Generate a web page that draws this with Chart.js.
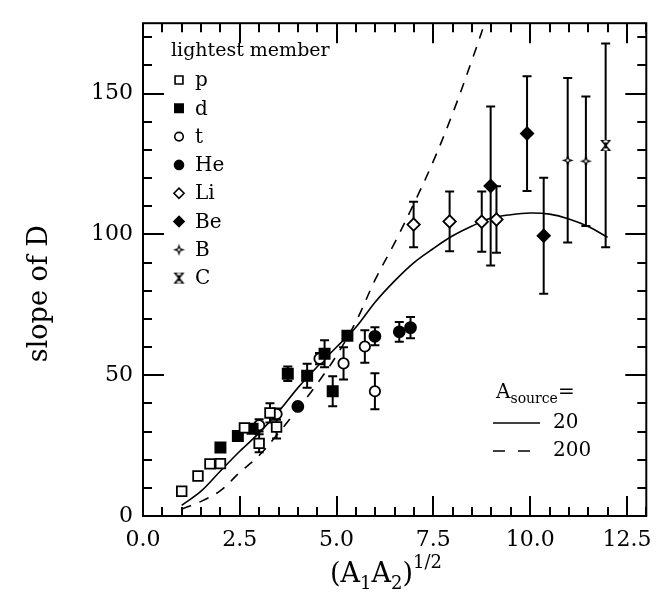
<!DOCTYPE html>
<html>
<head>
<meta charset="utf-8">
<script src="https://cdn.jsdelivr.net/npm/chart.js@4.4.0/dist/chart.umd.min.js"></script>
<style>
  html, body { margin: 0; padding: 0; background: #fff; }
  #wrap { width: 663px; height: 592px; }
</style>
</head>
<body>
<div id="wrap"><canvas id="slopechart" width="663" height="592"></canvas></div>
<script>
// data, one group per lightest member
const pX = [1.0, 1.42, 1.73, 2.0, 2.62, 3.0, 3.28, 3.45];
const pY = [8.8, 14.2, 18.5, 18.6, 31.3, 25.8, 36.6, 31.6];
const pErr = [0, 0, 0, 0, 0, 3.2, 3.4, 4.1];

const dX = [2.0, 2.45, 2.83, 3.74, 4.24, 4.69, 4.9, 5.28];
const dY = [24.3, 28.4, 31.0, 50.5, 49.8, 57.6, 44.3, 64.0];
const dErr = [1.5, 0, 0, 2.6, 4.3, 4.8, 5.3, 0];

const tX = [3.0, 3.45, 4.56, 5.18, 5.73, 5.99];
const tY = [32.2, 36.2, 55.9, 54.2, 60.2, 44.3];
const tErr = [2.2, 2.0, 2.0, 5.7, 5.8, 6.4];

const heX = [4.0, 5.99, 6.62, 6.91];
const heY = [38.9, 63.8, 65.4, 66.9];
const heErr = [0, 3.2, 3.5, 3.8];

const liX = [6.99, 7.92, 8.75, 9.13];
const liY = [103.5, 104.6, 104.5, 105.3];
const liErr = [8.1, 10.6, 10.7, 11.8];

const beX = [8.98, 9.92, 10.35];
const beY = [117.2, 135.8, 99.5];
const beErr = [28.2, 20.4, 20.6];

const bX = [10.97, 11.44];
const bY = [126.3, 126.0];
const bErr = [29.2, 23.0];

const cX = [11.95];
const cY = [131.6];
const cErr = [36.2];

// model curves
const solidX = [1, 1.5, 2, 2.5, 3, 3.5, 4, 4.5, 5, 5.5, 6, 6.5, 7, 7.5, 8, 8.5, 9, 9.5, 10, 10.5, 11, 11.5, 12];
const solidY = [3.8, 8.8, 16, 23, 29.5, 37, 45.5, 53, 60, 67, 76, 83.5, 90, 95, 99.5, 103, 105.8, 107, 107.6, 107.2, 105.5, 102.8, 99];
const dashX = [1, 1.5, 2, 2.5, 3, 3.5, 4, 4.5, 5, 5.5, 6, 6.5, 7, 7.5, 8, 8.5, 9];
const dashY = [2.5, 5.2, 9, 15.5, 21.5, 29.5, 38, 47, 57, 69, 84, 97, 111, 126, 143, 162, 182];

const xTicksMax = 13;
const yTicksMax = 175;

const serif = '"DejaVu Serif", "Liberation Serif", serif';

function pts(xs, ys) {
    return xs.map((x, i) => ({ x: x, y: ys[i] }));
}

// little custom markers for B and C
function starMarker() {
    const c = document.createElement('canvas');
    c.width = 13; c.height = 13;
    const g = c.getContext('2d');
    g.fillStyle = '#000';
    g.beginPath();
    g.moveTo(6.5, 0.5); g.lineTo(8, 5); g.lineTo(12.5, 6.5); g.lineTo(8, 8);
    g.lineTo(6.5, 12.5); g.lineTo(5, 8); g.lineTo(0.5, 6.5); g.lineTo(5, 5);
    g.closePath();
    g.fill();
    g.fillStyle = '#fff';
    g.beginPath(); g.arc(6.5, 6.5, 1.3, 0, Math.PI * 2); g.fill();
    return c;
}
function hourglassMarker() {
    const c = document.createElement('canvas');
    c.width = 13; c.height = 13;
    const g = c.getContext('2d');
    g.fillStyle = '#000';
    g.beginPath();
    g.moveTo(1, 1); g.lineTo(12, 1); g.lineTo(7.5, 6.5); g.lineTo(12, 12);
    g.lineTo(1, 12); g.lineTo(5.5, 6.5); g.closePath();
    g.fill();
    g.fillStyle = '#fff';
    g.fillRect(4.5, 1.5, 4, 2);
    g.fillRect(4.5, 9.5, 4, 2);
    return c;
}

function markerSet(label, xs, ys, errs, style, radius, filled) {
    return {
        label: label,
        data: pts(xs, ys),
        errs: errs,
        pointStyle: style,
        pointRadius: radius,
        pointBorderWidth: 1.8,
        pointBorderColor: '#000',
        pointBackgroundColor: filled ? '#000' : '#fff',
        showLine: false,
        order: 1
    };
}

const datasets = [
    markerSet('p', pX, pY, pErr, 'rect', 6.8, false),
    markerSet('d', dX, dY, dErr, 'rect', 7.2, true),
    markerSet('t', tX, tY, tErr, 'circle', 5.2, false),
    markerSet('He', heX, heY, heErr, 'circle', 5.5, true),
    markerSet('Li', liX, liY, liErr, 'rectRot', 6.2, false),
    markerSet('Be', beX, beY, beErr, 'rectRot', 6.2, true),
    markerSet('B', bX, bY, bErr, starMarker(), 6, true),
    markerSet('C', cX, cY, cErr, hourglassMarker(), 6, true),
    {
        label: '20', data: pts(solidX, solidY), showLine: true, pointRadius: 0,
        borderColor: '#000', borderWidth: 1.6, tension: 0.35, order: 5, isCurve: true
    },
    {
        label: '200', data: pts(dashX, dashY), showLine: true, pointRadius: 0,
        borderColor: '#000', borderWidth: 1.6, borderDash: [10, 9], tension: 0.35, order: 5, isCurve: true
    }
];

// vertical error bars, drawn under the markers
const errorBars = {
    id: 'errorBars',
    beforeDatasetsDraw(chart) {
        const ctx = chart.ctx, xs = chart.scales.x, ys = chart.scales.y, a = chart.chartArea;
        ctx.save();
        ctx.beginPath();
        ctx.rect(a.left, a.top, a.right - a.left, a.bottom - a.top);
        ctx.clip();
        ctx.strokeStyle = '#000';
        ctx.lineWidth = 2;
        chart.data.datasets.forEach(ds => {
            if (!ds.errs) return;
            ds.data.forEach((d, i) => {
                const e = ds.errs[i];
                if (!e) return;
                const px = xs.getPixelForValue(d.x);
                const top = ys.getPixelForValue(d.y + e);
                const bot = ys.getPixelForValue(d.y - e);
                ctx.beginPath();
                ctx.moveTo(px, top); ctx.lineTo(px, bot);
                ctx.moveTo(px - 4.5, top); ctx.lineTo(px + 4.5, top);
                ctx.moveTo(px - 4.5, bot); ctx.lineTo(px + 4.5, bot);
                ctx.stroke();
            });
        });
        ctx.restore();
    }
};

// box with inward ticks on every side, plus axis titles
const frame = {
    id: 'frame',
    afterDraw(chart) {
        const ctx = chart.ctx, a = chart.chartArea, xs = chart.scales.x, ys = chart.scales.y;
        ctx.save();
        ctx.strokeStyle = '#000';
        ctx.lineWidth = 2;
        ctx.strokeRect(a.left, a.top, a.right - a.left, a.bottom - a.top);
        ctx.beginPath();
        for (let k = 0; k * 0.5 <= xTicksMax; k++) {
            const px = Math.round(xs.getPixelForValue(k * 0.5));
            const len = (k % 5 === 0) ? 20 : 9;
            ctx.moveTo(px, a.bottom); ctx.lineTo(px, a.bottom - len);
            ctx.moveTo(px, a.top); ctx.lineTo(px, a.top + len);
        }
        for (let k = 0; k * 10 <= yTicksMax; k++) {
            const py = Math.round(ys.getPixelForValue(k * 10));
            const len = (k % 5 === 0) ? 21 : 9;
            ctx.moveTo(a.left, py); ctx.lineTo(a.left + len, py);
            ctx.moveTo(a.right, py); ctx.lineTo(a.right - len, py);
        }
        ctx.stroke();

        ctx.fillStyle = '#000';
        // y title
        ctx.save();
        ctx.translate(40, (a.top + a.bottom) / 2 + 24);
        ctx.rotate(-Math.PI / 2);
        ctx.font = '27px ' + serif;
        ctx.textAlign = 'center';
        ctx.textBaseline = 'middle';
        ctx.fillText('slope of D', 0, 0);
        ctx.restore();

        // x title (A1A2)^1/2
        const parts = [
            { t: '(A', s: 27, dy: 0 }, { t: '1', s: 18, dy: 7 },
            { t: 'A', s: 27, dy: 0 }, { t: '2', s: 18, dy: 7 },
            { t: ')', s: 27, dy: 0 }, { t: '1/2', s: 18, dy: -14 }
        ];
        drawParts(ctx, parts, 386, 582, 'center');
        ctx.restore();
    }
};

function drawParts(ctx, parts, x, y, align) {
    ctx.textAlign = 'left';
    ctx.textBaseline = 'alphabetic';
    let w = 0;
    parts.forEach(p => { ctx.font = p.s + 'px ' + serif; w += ctx.measureText(p.t).width; });
    let cx = align === 'center' ? x - w / 2 : x;
    parts.forEach(p => {
        ctx.font = p.s + 'px ' + serif;
        ctx.fillText(p.t, cx, y + p.dy);
        cx += ctx.measureText(p.t).width;
    });
}

// the two keys inside the plot
const keys = {
    id: 'keys',
    afterDraw(chart) {
        const ctx = chart.ctx;
        const drawPoint = Chart.helpers && Chart.helpers.drawPoint;
        ctx.save();
        ctx.fillStyle = '#000';
        ctx.font = '19px ' + serif;
        ctx.textAlign = 'left';
        ctx.textBaseline = 'middle';
        ctx.fillText('lightest member', 171, 51);

        const marks = chart.data.datasets.filter(ds => !ds.isCurve);
        marks.forEach((ds, i) => {
            const y = 80 + i * 28.3;
            ctx.fillStyle = ds.pointBackgroundColor;
            ctx.strokeStyle = '#000';
            ctx.lineWidth = 1.6;
            if (drawPoint) {
                drawPoint(ctx, { pointStyle: ds.pointStyle, radius: ds.pointRadius * 0.82, rotation: 0, borderWidth: 1.6 }, 179, y);
            }
            ctx.fillStyle = '#000';
            ctx.font = '20px ' + serif;
            ctx.fillText(ds.label, 195, y + 1);
        });

        // model key
        drawParts(ctx, [
            { t: 'A', s: 20, dy: 0 }, { t: 'source', s: 14, dy: 5 }, { t: '=', s: 20, dy: 0 }
        ], 496, 398, 'left');
        ctx.strokeStyle = '#000';
        ctx.lineWidth = 1.6;
        ctx.beginPath();
        ctx.moveTo(493, 423); ctx.lineTo(540, 423);
        ctx.stroke();
        ctx.setLineDash([12, 13]);
        ctx.beginPath();
        ctx.moveTo(493, 451); ctx.lineTo(540, 451);
        ctx.stroke();
        ctx.setLineDash([]);
        ctx.font = '20px ' + serif;
        ctx.textBaseline = 'middle';
        ctx.fillText('20', 553, 423);
        ctx.fillText('200', 553, 451);
        ctx.restore();
    }
};

window.onload = () => {
    const mychart = document.getElementById('slopechart');
    new Chart(mychart, {
        type: 'scatter',
        data: { datasets: datasets },
        options: {
            responsive: false,
            animation: false,
            devicePixelRatio: 1,
            layout: { padding: { left: 0, top: 12, right: 15, bottom: 0 }, autoPadding: false },
            plugins: { legend: { display: false }, tooltip: { enabled: false } },
            scales: {
                x: {
                    type: 'linear', min: 0, max: xTicksMax,
                    grid: { display: false, drawTicks: false },
                    border: { display: false },
                    ticks: {
                        stepSize: 2.5, includeBounds: false, padding: 11, color: '#000',
                        maxRotation: 0, autoSkip: false,
                        font: { family: 'DejaVu Serif', size: 22 },
                        callback: v => v.toFixed(1)
                    },
                    afterFit: s => { s.height = 76; }
                },
                y: {
                    type: 'linear', min: 0, max: yTicksMax,
                    grid: { display: false, drawTicks: false },
                    border: { display: false },
                    ticks: {
                        stepSize: 50, includeBounds: false, padding: 10, color: '#000',
                        font: { family: 'DejaVu Serif', size: 22 },
                        callback: v => String(v)
                    },
                    afterFit: s => { s.width = 143; }
                }
            }
        },
        plugins: [errorBars, frame, keys]
    });
};
</script>
</body>
</html>
